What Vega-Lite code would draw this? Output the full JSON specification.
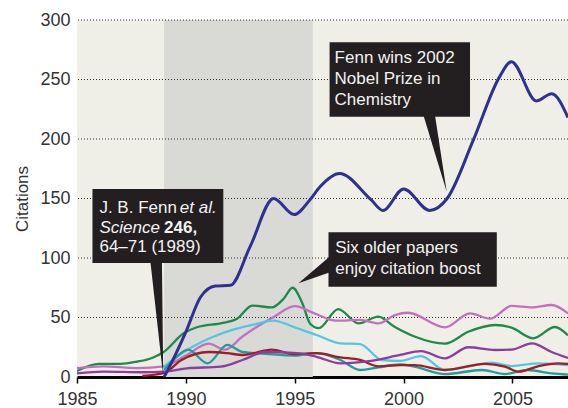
{
  "$schema": "https://vega.github.io/schema/vega-lite/v6.json",
  "width": 491,
  "height": 357,
  "autosize": {"type": "none"},
  "padding": {"left": 77, "top": 20, "right": 0, "bottom": 31},
  "config": {
    "font": "Liberation Sans",
    "view": {"stroke": null, "fill": "#F0EFE7"},
    "axis": {"labelFont": "Liberation Sans", "titleFont": "Liberation Sans", "grid": false, "labelFontSize": 18, "labelColor": "#333333", "labelFlush": false, "labelOverlap": false},
    "axisX": {"labelPadding": 7, "tickColor": "#000000", "tickSize": 6, "tickWidth": 1.5, "domainColor": "#000000", "domainWidth": 3},
    "axisY": {"domain": false, "ticks": false, "labelPadding": 7, "titleFontSize": 17, "titleFontWeight": "normal", "titleColor": "#333333", "titlePadding": 8}
  },
  "datasets": {
    "band": [{"year": 1989, "year2": 1995.83}],
    "grid": [{"value": 50}, {"value": 100}, {"value": 150}, {"value": 200}, {"value": 250}, {"value": 300}],
    "older": [
      {"series": "Paper 1", "year": 1985.0, "value": 5},
      {"series": "Paper 1", "year": 1986.0, "value": 11},
      {"series": "Paper 1", "year": 1987.0, "value": 11},
      {"series": "Paper 1", "year": 1987.76, "value": 12.9},
      {"series": "Paper 1", "year": 1988.45, "value": 16},
      {"series": "Paper 1", "year": 1988.98, "value": 21},
      {"series": "Paper 1", "year": 1989.9, "value": 36.7},
      {"series": "Paper 1", "year": 1990.5, "value": 41.8},
      {"series": "Paper 1", "year": 1991.7, "value": 45.5},
      {"series": "Paper 1", "year": 1992.35, "value": 49},
      {"series": "Paper 1", "year": 1993.05, "value": 60},
      {"series": "Paper 1", "year": 1993.95, "value": 58.5},
      {"series": "Paper 1", "year": 1994.5, "value": 66},
      {"series": "Paper 1", "year": 1994.9, "value": 75},
      {"series": "Paper 1", "year": 1995.35, "value": 62},
      {"series": "Paper 1", "year": 1995.7, "value": 45},
      {"series": "Paper 1", "year": 1996.1, "value": 41},
      {"series": "Paper 1", "year": 1997.0, "value": 57},
      {"series": "Paper 1", "year": 1997.93, "value": 45},
      {"series": "Paper 1", "year": 1998.84, "value": 50.7},
      {"series": "Paper 1", "year": 1999.6, "value": 42},
      {"series": "Paper 1", "year": 2000.5, "value": 34},
      {"series": "Paper 1", "year": 2001.9, "value": 28},
      {"series": "Paper 1", "year": 2002.97, "value": 38},
      {"series": "Paper 1", "year": 2004.2, "value": 43.7},
      {"series": "Paper 1", "year": 2004.96, "value": 41.5},
      {"series": "Paper 1", "year": 2005.95, "value": 32.5},
      {"series": "Paper 1", "year": 2006.95, "value": 42},
      {"series": "Paper 1", "year": 2007.55, "value": 35},

      {"series": "Paper 2", "year": 1985.0, "value": 7.5},
      {"series": "Paper 2", "year": 1986.2, "value": 9},
      {"series": "Paper 2", "year": 1987.76, "value": 7.5},
      {"series": "Paper 2", "year": 1989.0, "value": 9},
      {"series": "Paper 2", "year": 1990.0, "value": 18},
      {"series": "Paper 2", "year": 1991.05, "value": 28},
      {"series": "Paper 2", "year": 1991.8, "value": 23},
      {"series": "Paper 2", "year": 1992.6, "value": 34},
      {"series": "Paper 2", "year": 1993.65, "value": 46.5},
      {"series": "Paper 2", "year": 1994.0, "value": 50},
      {"series": "Paper 2", "year": 1995.0, "value": 59.5},
      {"series": "Paper 2", "year": 1995.9, "value": 53.5},
      {"series": "Paper 2", "year": 1996.9, "value": 47.3},
      {"series": "Paper 2", "year": 1998.0, "value": 48},
      {"series": "Paper 2", "year": 1998.85, "value": 45},
      {"series": "Paper 2", "year": 1999.6, "value": 52},
      {"series": "Paper 2", "year": 2000.2, "value": 54},
      {"series": "Paper 2", "year": 2001.9, "value": 41.7},
      {"series": "Paper 2", "year": 2003.05, "value": 53.5},
      {"series": "Paper 2", "year": 2003.97, "value": 49},
      {"series": "Paper 2", "year": 2004.96, "value": 59.7},
      {"series": "Paper 2", "year": 2005.9, "value": 58.5},
      {"series": "Paper 2", "year": 2006.8, "value": 60.5},
      {"series": "Paper 2", "year": 2007.55, "value": 53.5},

      {"series": "Paper 3", "year": 1989.0, "value": 9},
      {"series": "Paper 3", "year": 1990.05, "value": 22.7},
      {"series": "Paper 3", "year": 1991.15, "value": 33},
      {"series": "Paper 3", "year": 1992.2, "value": 40},
      {"series": "Paper 3", "year": 1993.2, "value": 44.5},
      {"series": "Paper 3", "year": 1994.0, "value": 47.3},
      {"series": "Paper 3", "year": 1995.1, "value": 41},
      {"series": "Paper 3", "year": 1996.0, "value": 35.3},
      {"series": "Paper 3", "year": 1997.1, "value": 28.3},
      {"series": "Paper 3", "year": 1998.0, "value": 27.7},
      {"series": "Paper 3", "year": 1999.0, "value": 14.3},
      {"series": "Paper 3", "year": 1999.84, "value": 13.5},
      {"series": "Paper 3", "year": 2000.8, "value": 17.6},
      {"series": "Paper 3", "year": 2001.9, "value": 5.9},
      {"series": "Paper 3", "year": 2003.0, "value": 9},
      {"series": "Paper 3", "year": 2004.04, "value": 12},
      {"series": "Paper 3", "year": 2004.96, "value": 9.2},
      {"series": "Paper 3", "year": 2006.2, "value": 11.5},
      {"series": "Paper 3", "year": 2007.55, "value": 10},

      {"series": "Paper 4", "year": 1989.0, "value": 6},
      {"series": "Paper 4", "year": 1989.5, "value": 15.7},
      {"series": "Paper 4", "year": 1990.1, "value": 23},
      {"series": "Paper 4", "year": 1991.0, "value": 11.5},
      {"series": "Paper 4", "year": 1991.9, "value": 27},
      {"series": "Paper 4", "year": 1992.6, "value": 21},
      {"series": "Paper 4", "year": 1993.65, "value": 19.5},
      {"series": "Paper 4", "year": 1995.0, "value": 18},
      {"series": "Paper 4", "year": 1996.0, "value": 20},
      {"series": "Paper 4", "year": 1997.1, "value": 14.3},
      {"series": "Paper 4", "year": 1998.0, "value": 5.9},
      {"series": "Paper 4", "year": 1998.84, "value": 8.1},
      {"series": "Paper 4", "year": 1999.84, "value": 10.5},
      {"series": "Paper 4", "year": 2000.5, "value": 8.7},
      {"series": "Paper 4", "year": 2001.9, "value": 2.5},
      {"series": "Paper 4", "year": 2003.6, "value": 5.9},
      {"series": "Paper 4", "year": 2004.65, "value": 2.5},
      {"series": "Paper 4", "year": 2005.7, "value": 5.9},
      {"series": "Paper 4", "year": 2006.8, "value": 3},
      {"series": "Paper 4", "year": 2007.55, "value": 2},

      {"series": "Paper 5", "year": 1988.0, "value": 1},
      {"series": "Paper 5", "year": 1989.0, "value": 3.5},
      {"series": "Paper 5", "year": 1989.8, "value": 14.3},
      {"series": "Paper 5", "year": 1991.05, "value": 21},
      {"series": "Paper 5", "year": 1991.9, "value": 20},
      {"series": "Paper 5", "year": 1992.6, "value": 18.5},
      {"series": "Paper 5", "year": 1993.95, "value": 23},
      {"series": "Paper 5", "year": 1994.95, "value": 19.3},
      {"series": "Paper 5", "year": 1996.0, "value": 20},
      {"series": "Paper 5", "year": 1997.1, "value": 16.5},
      {"series": "Paper 5", "year": 1998.0, "value": 14.3},
      {"series": "Paper 5", "year": 1998.85, "value": 9},
      {"series": "Paper 5", "year": 1999.84, "value": 10},
      {"series": "Paper 5", "year": 2000.5, "value": 10},
      {"series": "Paper 5", "year": 2001.9, "value": 5.9},
      {"series": "Paper 5", "year": 2003.74, "value": 11},
      {"series": "Paper 5", "year": 2004.65, "value": 8.7},
      {"series": "Paper 5", "year": 2005.3, "value": 4.5},
      {"series": "Paper 5", "year": 2006.2, "value": 9.2},
      {"series": "Paper 5", "year": 2007.1, "value": 11.5},
      {"series": "Paper 5", "year": 2007.55, "value": 11},

      {"series": "Paper 6", "year": 1985.0, "value": 3},
      {"series": "Paper 6", "year": 1986.2, "value": 4.5},
      {"series": "Paper 6", "year": 1988.0, "value": 4},
      {"series": "Paper 6", "year": 1989.0, "value": 4.5},
      {"series": "Paper 6", "year": 1990.05, "value": 7.3},
      {"series": "Paper 6", "year": 1991.6, "value": 8.7},
      {"series": "Paper 6", "year": 1992.6, "value": 14.3},
      {"series": "Paper 6", "year": 1993.65, "value": 21},
      {"series": "Paper 6", "year": 1995.1, "value": 20},
      {"series": "Paper 6", "year": 1996.0, "value": 17},
      {"series": "Paper 6", "year": 1997.1, "value": 11.5},
      {"series": "Paper 6", "year": 1998.5, "value": 13.5},
      {"series": "Paper 6", "year": 1999.84, "value": 18.5},
      {"series": "Paper 6", "year": 2000.8, "value": 21.8},
      {"series": "Paper 6", "year": 2001.9, "value": 15.7},
      {"series": "Paper 6", "year": 2002.97, "value": 25},
      {"series": "Paper 6", "year": 2004.2, "value": 22.7},
      {"series": "Paper 6", "year": 2004.96, "value": 23},
      {"series": "Paper 6", "year": 2005.9, "value": 28.3},
      {"series": "Paper 6", "year": 2006.8, "value": 21},
      {"series": "Paper 6", "year": 2007.55, "value": 16}
    ],
    "fenn": [
      {"year": 1989.0, "value": 0},
      {"year": 1989.5, "value": 18},
      {"year": 1990.0, "value": 38},
      {"year": 1990.67, "value": 67},
      {"year": 1991.35, "value": 76.5},
      {"year": 1992.04, "value": 77},
      {"year": 1992.96, "value": 110},
      {"year": 1994.03, "value": 150},
      {"year": 1994.97, "value": 136.5},
      {"year": 1995.7, "value": 149},
      {"year": 1996.17, "value": 160},
      {"year": 1997.05, "value": 171},
      {"year": 1998.5, "value": 149},
      {"year": 1999.05, "value": 140},
      {"year": 2000.0, "value": 158},
      {"year": 2001.2, "value": 140},
      {"year": 2002.0, "value": 150},
      {"year": 2003.2, "value": 199},
      {"year": 2004.4, "value": 252},
      {"year": 2004.95, "value": 265},
      {"year": 2006.1, "value": 232},
      {"year": 2006.8, "value": 238},
      {"year": 2007.55, "value": 218}
    ],
    "pointers": [
      {"pointer": "p1", "year": 1988.37, "value": 97, "value2": 97},
      {"pointer": "p1", "year": 1988.9, "value": 97, "value2": 10.2},
      {"pointer": "p1", "year": 1988.96, "value": 2, "value2": 2},
      {"pointer": "p2", "year": 1995.17, "value": 78.7, "value2": 78.7},
      {"pointer": "p2", "year": 1996.62, "value": 101.5, "value2": 88},
      {"pointer": "p3", "year": 2000.91, "value": 220, "value2": 220},
      {"pointer": "p3", "year": 2001.44, "value": 220, "value2": 188},
      {"pointer": "p3", "year": 2001.98, "value": 155.7, "value2": 155.7}
    ],
    "boxes": [
      {"year": 1985.71, "year2": 1991.72, "value": 95.8, "value2": 158},
      {"year": 1996.55, "year2": 2004.28, "value": 75.9, "value2": 121.6},
      {"year": 1996.6, "year2": 2003.05, "value": 218.7, "value2": 281.3}
    ],
    "textNormal": [
      {"year": 1986.03, "value": 137.8, "text": "J. B. Fenn"},
      {"year": 1986.03, "value": 105, "text": "64–71 (1989)"},
      {"year": 1996.86, "value": 104.2, "text": "Six older papers"},
      {"year": 1996.86, "value": 86.6, "text": "enjoy citation boost"},
      {"year": 1996.83, "value": 263.9, "text": "Fenn wins 2002"},
      {"year": 1996.83, "value": 246.2, "text": "Nobel Prize in"},
      {"year": 1996.83, "value": 228.6, "text": "Chemistry"}
    ],
    "textItalic": [
      {"year": 1989.72, "value": 137.8, "text": "et al."},
      {"year": 1986.03, "value": 121, "text": "Science"}
    ],
    "textBold": [
      {"year": 1989.0, "value": 121, "text": "246,"}
    ]
  },
  "layer": [
    {
      "data": {"name": "band"},
      "mark": {"type": "rect", "color": "#D9DAD5"},
      "encoding": {
        "x": {
          "field": "year", "type": "quantitative",
          "scale": {"domain": [1985, 2007.55], "nice": false, "zero": false},
          "axis": {"values": [1985, 1990, 1995, 2000, 2005], "format": "d", "title": null}
        },
        "x2": {"field": "year2"}
      }
    },
    {
      "data": {"name": "grid"},
      "mark": {"type": "rule", "color": "#333333", "strokeDash": [1, 2], "strokeWidth": 1.2},
      "encoding": {
        "y": {
          "field": "value", "type": "quantitative",
          "scale": {"domain": [0, 300], "nice": false},
          "axis": {"values": [0, 50, 100, 150, 200, 250, 300], "title": "Citations"}
        }
      }
    },
    {
      "data": {"name": "older"},
      "mark": {"type": "line", "interpolate": "monotone", "strokeWidth": 2.3, "clip": true},
      "encoding": {
        "x": {"field": "year", "type": "quantitative"},
        "y": {"field": "value", "type": "quantitative"},
        "color": {
          "field": "series", "type": "nominal", "legend": null,
          "scale": {
            "domain": ["Paper 1", "Paper 2", "Paper 3", "Paper 4", "Paper 5", "Paper 6"],
            "range": ["#1E8A4C", "#C470C0", "#52C7E2", "#1F9C9B", "#A01D24", "#8D3C9E"]
          }
        }
      }
    },
    {
      "data": {"name": "fenn"},
      "mark": {"type": "line", "interpolate": "monotone", "strokeWidth": 3, "color": "#2E3192", "clip": true},
      "encoding": {
        "x": {"field": "year", "type": "quantitative"},
        "y": {"field": "value", "type": "quantitative"}
      }
    },
    {
      "data": {"name": "pointers"},
      "mark": {"type": "area", "color": "#231F20", "opacity": 1},
      "encoding": {
        "x": {"field": "year", "type": "quantitative"},
        "y": {"field": "value", "type": "quantitative"},
        "y2": {"field": "value2"},
        "detail": {"field": "pointer", "type": "nominal"}
      }
    },
    {
      "data": {"name": "boxes"},
      "mark": {"type": "rect", "color": "#231F20"},
      "encoding": {
        "x": {"field": "year", "type": "quantitative"},
        "x2": {"field": "year2"},
        "y": {"field": "value", "type": "quantitative"},
        "y2": {"field": "value2"}
      }
    },
    {
      "data": {"name": "textNormal"},
      "mark": {"type": "text", "align": "left", "baseline": "alphabetic", "fontSize": 17, "color": "#F2F2F2"},
      "encoding": {
        "x": {"field": "year", "type": "quantitative"},
        "y": {"field": "value", "type": "quantitative"},
        "text": {"field": "text"}
      }
    },
    {
      "data": {"name": "textItalic"},
      "mark": {"type": "text", "align": "left", "baseline": "alphabetic", "fontSize": 17, "fontStyle": "italic", "color": "#F2F2F2"},
      "encoding": {
        "x": {"field": "year", "type": "quantitative"},
        "y": {"field": "value", "type": "quantitative"},
        "text": {"field": "text"}
      }
    },
    {
      "data": {"name": "textBold"},
      "mark": {"type": "text", "align": "left", "baseline": "alphabetic", "fontSize": 17, "fontWeight": "bold", "color": "#F2F2F2"},
      "encoding": {
        "x": {"field": "year", "type": "quantitative"},
        "y": {"field": "value", "type": "quantitative"},
        "text": {"field": "text"}
      }
    }
  ]
}
